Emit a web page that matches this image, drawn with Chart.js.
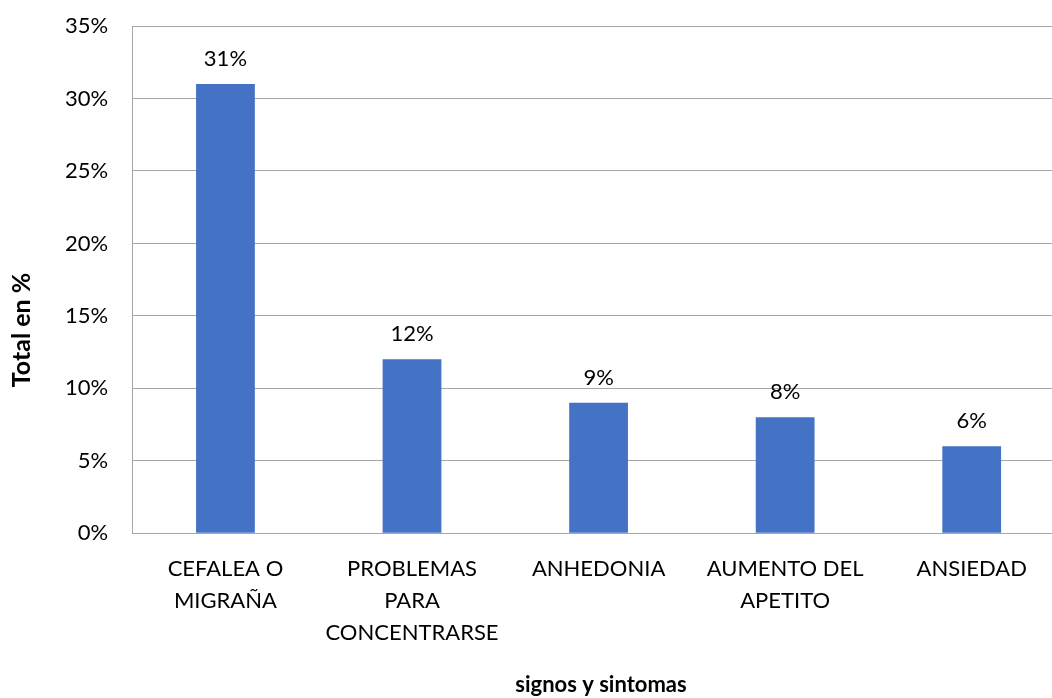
<!DOCTYPE html>
<html>
<head>
<meta charset="utf-8">
<script src="https://cdn.jsdelivr.net/npm/chart.js@4/dist/chart.umd.min.js"></script>
<style>
  html, body { margin: 0; padding: 0; background: #fff; overflow: hidden; }
  /* the original plot area runs past the right edge of the picture */
  #wrap { width: 1065px; height: 698px; }
</style>
</head>
<body>
<div id="wrap"><canvas id="bar"></canvas></div>
<script>
// data
const categories = [
    ["CEFALEA O", "MIGRAÑA"],
    ["PROBLEMAS", "PARA", "CONCENTRARSE"],
    "ANHEDONIA",
    ["AUMENTO DEL", "APETITO"],
    "ANSIEDAD"
];
const values = [31, 12, 9, 8, 6];
const yTicks = [0, 5, 10, 15, 20, 25, 30, 35];
const xTitle = 'signos y sintomas';
const yTitle = 'Total en %';

const FONT = "Lato, 'Open Sans', sans-serif";

// draws the % labels above each bar, plus the two axis titles
// (titles sit off-centre in the original, so they are placed by hand)
const barLabels = {
    id: 'barLabels',
    afterDatasetsDraw(chart) {
        const ctx = chart.ctx;
        const meta = chart.getDatasetMeta(0);
        ctx.save();
        ctx.font = "22px " + FONT;
        ctx.fillStyle = '#000';
        ctx.textAlign = 'center';
        ctx.textBaseline = 'bottom';
        meta.data.forEach((bar, i) => {
            ctx.fillText(values[i] + '%', bar.x, bar.y - 14);
        });

        ctx.textBaseline = 'middle';
        ctx.font = "bold 22px " + FONT;
        ctx.fillText(xTitle, 601, 685);

        ctx.translate(22, 330);
        ctx.rotate(-Math.PI / 2);
        ctx.font = "bold 25px " + FONT;
        ctx.fillText(yTitle, 0, 0);
        ctx.restore();
    }
};

new Chart(document.getElementById('bar'), {
    type: 'bar',
    data: {
        labels: categories,
        datasets: [{
            label: 'Total',
            data: values,
            backgroundColor: '#4472C4',
            categoryPercentage: 1,
            barPercentage: 0.315
        }]
    },
    options: {
        responsive: true,
        maintainAspectRatio: false,
        animation: false,
        layout: { padding: { left: 41, right: 0, top: 26, bottom: 29 } },
        plugins: {
            legend: { display: false },
            tooltip: { enabled: false }
        },
        scales: {
            y: {
                min: 0,
                max: 35,
                afterBuildTicks: axis => { axis.ticks = yTicks.map(v => ({ value: v })); },
                afterFit: axis => { axis.paddingTop = 0; },
                ticks: {
                    callback: v => v + '%',
                    color: '#000',
                    font: { family: FONT, size: 22 },
                    padding: 24
                },
                grid: { color: '#a6a6a6', drawTicks: false },
                border: { color: '#a6a6a6' }
            },
            x: {
                ticks: {
                    color: '#000',
                    font: { family: FONT, size: 22, lineHeight: 1.45 },
                    padding: 20,
                    maxRotation: 0,
                    autoSkip: false
                },
                grid: { display: false, drawTicks: false },
                border: { color: '#a6a6a6' }
            }
        }
    },
    plugins: [barLabels]
});
</script>
</body>
</html>
